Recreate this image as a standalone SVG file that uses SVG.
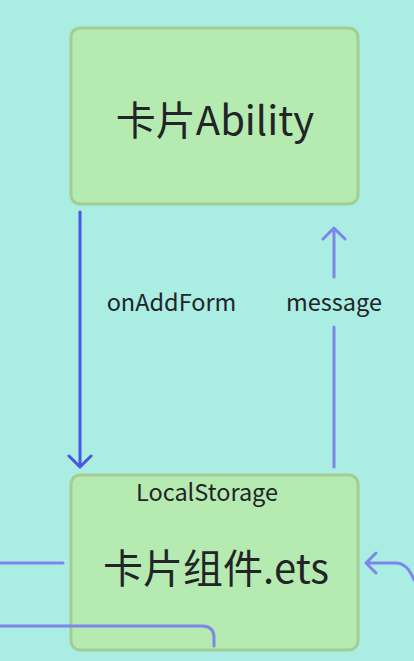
<svg xmlns="http://www.w3.org/2000/svg" width="414" height="661" viewBox="0 0 414 661">
<style>
.box{fill:#b5ebb0;stroke:#a3cd94;stroke-width:3}
.t{font-family:"Noto Sans CJK SC","Noto Sans",sans-serif;fill:#222428}
.big{font-size:40px}
.lbl{font-size:23.5px}
.c1{fill:none;stroke:#4b55e3;stroke-width:3;stroke-linecap:round;stroke-linejoin:round}
.c2{fill:none;stroke:#7f86ea;stroke-width:3;stroke-linecap:round;stroke-linejoin:round}
</style>
<rect width="414" height="661" fill="#a9ede3"/>
<g id="node-ability">
<rect class="box" x="71" y="28" width="287" height="176" rx="9"/>
<text class="t big" x="215" y="135" text-anchor="middle">卡片Ability</text>
</g>
<g id="node-component">
<rect class="box" x="71" y="475" width="287" height="175" rx="9"/>
<text class="t lbl" x="207" y="501" text-anchor="middle">LocalStorage</text>
<text class="t big" x="216" y="583" text-anchor="middle">卡片组件.ets</text>
</g>
<g id="connectors">
<path class="c1" d="M80 212V467M69 456L80 467L91 456"/>
<text class="t lbl" x="171.5" y="311" text-anchor="middle">onAddForm</text>
<path class="c2" d="M334 467V327M334 277V229M323 239L334 228L345 239"/>
<text class="t lbl" x="334" y="311" text-anchor="middle">message</text>
<path class="c2" d="M0 563H63"/>
<path class="c2" d="M414 580C410 570 405 563 395 563H366M376 553L366 563L376 573"/>
<path class="c2" d="M0 626H202Q214 626 214 638V646"/>
</g>
</svg>
